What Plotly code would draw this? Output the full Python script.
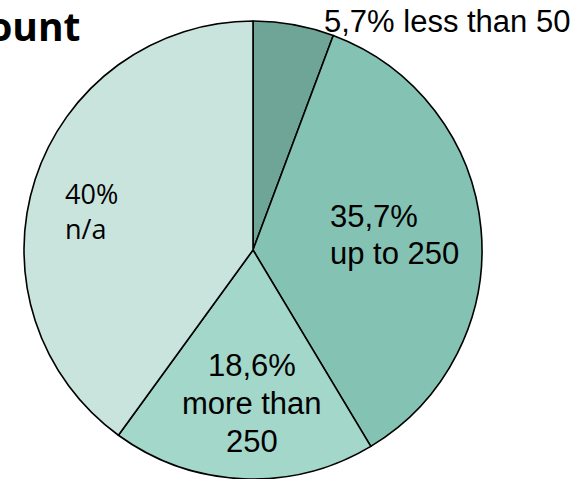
import plotly.graph_objects as go

# Share of companies by headcount band
categories = ["less than 50", "up to 250", "more than 250", "n/a"]
shares = [5.7, 35.7, 18.6, 40.0]
slice_colors = ["#6ea596", "#84c3b3", "#a3d7ca", "#c8e4dd"]

W, H = 586, 479
CX, CY, R = 253, 250, 229  # pie centre and radius in pixels


def fmt(v):
    s = f"{v:.1f}".replace(".", ",")
    return s[:-2] if s.endswith(",0") else s


fig = go.Figure(
    go.Pie(
        labels=categories,
        values=shares,
        sort=False,
        direction="clockwise",
        rotation=0,
        textinfo="none",
        hoverinfo="label+percent",
        marker=dict(colors=slice_colors, line=dict(color="#000000", width=1.6)),
        domain=dict(x=[(CX - R) / W, (CX + R) / W], y=[(H - CY - R) / H, (H - CY + R) / H]),
        showlegend=False,
    )
)

arial = "Liberation Sans, Arial, sans-serif"
calibri = "Open Sans, sans-serif"

# per label: line templates, anchor x (px), first-line y (px), line step (px),
# horizontal anchor, font family, size
label_style = [
    (["{v}% {c}"], 322, 22, 0, "left", arial, 31),
    (["{v}%", "up to 250"], 328, 217, 36, "left", arial, 31),
    (["{v}%", "more than", "250"], 252, 365, 38, "center", arial, 31),
    (["{v}%", "{c}"], 63, 193, 36, "left", calibri, 27),
]

annotations = []
for cat, val, (lines, px, py, step, xa, fam, size) in zip(categories, shares, label_style):
    for i, tpl in enumerate(lines):
        annotations.append(
            dict(
                text=tpl.format(v=fmt(val), c=cat),
                x=px / W,
                y=1 - (py + i * step) / H,
                xref="paper",
                yref="paper",
                xanchor=xa,
                yanchor="middle",
                showarrow=False,
                font=dict(family=fam, size=size, color="#000000"),
            )
        )

# chart title, running off the left edge of the page
annotations.append(
    dict(
        text="<b>Headcount</b>",
        x=83 / W,
        y=1 - 25 / H,
        xref="paper",
        yref="paper",
        xanchor="right",
        yanchor="middle",
        showarrow=False,
        font=dict(family="Open Sans, sans-serif", size=39, color="#000000"),
    )
)

fig.update_layout(
    width=W,
    height=H,
    margin=dict(l=0, r=0, t=0, b=0),
    paper_bgcolor="#ffffff",
    plot_bgcolor="#ffffff",
    annotations=annotations,
)

fig.write_html("out.html")
